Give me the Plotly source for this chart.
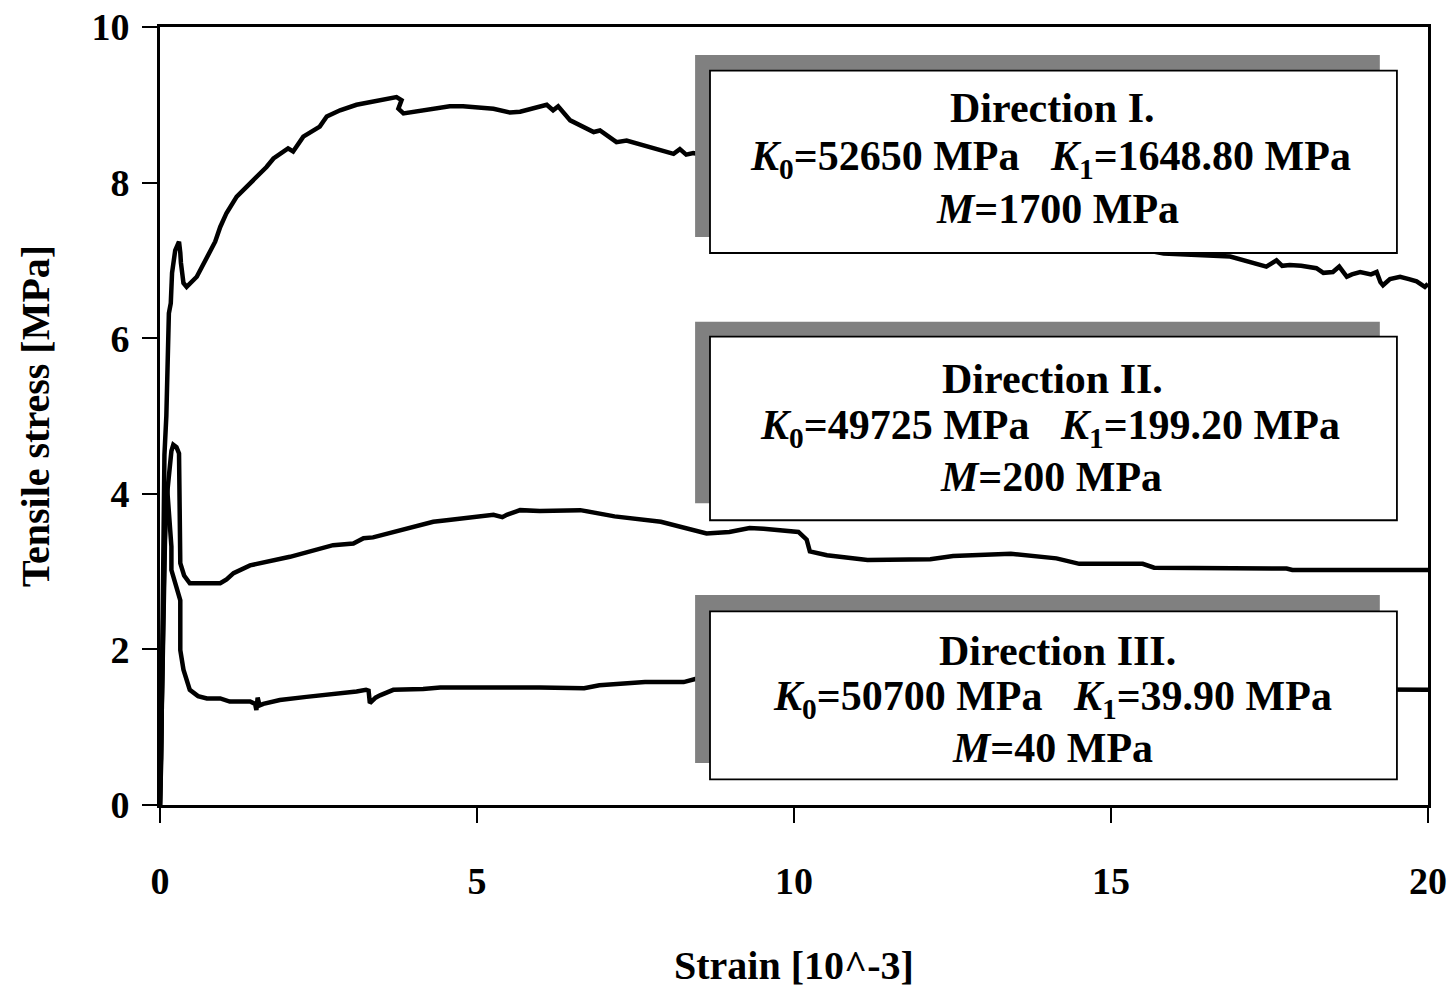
import plotly.graph_objects as go

# ---------------- data ----------------
dir1_strain = [0.00, 0.02, 0.03, 0.05, 0.07, 0.10, 0.12, 0.14, 0.17, 0.19, 0.24, 0.30, 0.32, 0.33,
               0.37, 0.42, 0.58, 0.74, 0.87, 0.95, 1.05, 1.21, 1.37, 1.68, 1.79, 2.02, 2.10, 2.26,
               2.52, 2.63, 2.84, 3.10, 3.73, 3.81, 3.76, 3.84, 4.57, 4.78, 5.26, 5.52, 5.68, 5.99,
               6.10, 6.20, 6.28, 6.47, 6.84, 6.94, 7.20, 7.36, 7.99, 8.10, 8.20, 8.30, 8.41,
               9.50, 11.00, 12.50, 14.00, 15.00,
               15.83, 16.61, 16.88, 17.45, 17.55, 17.61, 17.70, 17.82, 18.00, 18.24, 18.35, 18.50,
               18.60, 18.72, 18.80, 18.93, 19.10, 19.19, 19.25, 19.29, 19.40, 19.56, 19.70, 19.82,
               19.95, 20.00]
dir1_stress = [0.00, 0.60, 1.50, 3.00, 4.50, 5.00, 6.00, 6.32, 6.45, 6.84, 7.13, 7.24, 7.10, 6.97,
               6.71, 6.66, 6.79, 7.05, 7.24, 7.43, 7.61, 7.82, 7.95, 8.20, 8.31, 8.44, 8.40, 8.59,
               8.72, 8.85, 8.93, 9.00, 9.10, 9.06, 8.95, 8.89, 8.98, 8.98, 8.95, 8.90, 8.91, 8.97,
               9.00, 8.93, 8.98, 8.80, 8.65, 8.67, 8.52, 8.54, 8.39, 8.37, 8.43, 8.36, 8.38,
               8.20, 7.95, 7.70, 7.40, 7.22,
               7.09, 7.07, 7.05, 6.92, 6.98, 7.00, 6.93, 6.94, 6.93, 6.90, 6.84, 6.85,
               6.92, 6.79, 6.82, 6.85, 6.82, 6.85, 6.72, 6.68, 6.76, 6.79, 6.76, 6.73,
               6.66, 6.70]

dir2_strain = [0.00, 0.02, 0.04, 0.07, 0.10, 0.14, 0.18, 0.21, 0.26, 0.30, 0.31, 0.32, 0.32, 0.38,
               0.47, 0.95, 1.05, 1.16, 1.42, 2.05, 2.73, 3.05, 3.21, 3.36, 3.89, 4.31, 4.52, 5.26,
               5.40, 5.47, 5.68, 5.99, 6.63, 6.90, 7.17, 7.90, 8.62, 8.98, 9.30, 9.52, 10.07, 10.20,
               10.25, 10.52, 11.16, 12.15, 12.51, 13.42, 14.14, 14.50, 15.50, 15.68, 17.77, 17.86,
               20.00]
dir2_stress = [0.00, 1.20, 2.50, 3.30, 3.90, 4.30, 4.55, 4.63, 4.60, 4.52, 4.00, 3.66, 3.11, 2.95,
               2.85, 2.85, 2.90, 2.98, 3.08, 3.19, 3.34, 3.36, 3.43, 3.44, 3.55, 3.64, 3.66, 3.73,
               3.70, 3.73, 3.79, 3.78, 3.79, 3.75, 3.71, 3.64, 3.49, 3.51, 3.56, 3.55, 3.51, 3.41,
               3.26, 3.21, 3.15, 3.16, 3.20, 3.23, 3.17, 3.10, 3.10, 3.05, 3.04, 3.02,
               3.02]

dir3_strain = [0.00, 0.02, 0.04, 0.06, 0.09, 0.11, 0.14, 0.18, 0.18, 0.25, 0.32, 0.32, 0.37, 0.47,
               0.60, 0.74, 0.95, 1.10, 1.42, 1.50, 1.52, 1.54, 1.57, 1.63, 1.89, 2.31, 2.84, 3.10,
               3.25, 3.29, 3.31, 3.40, 3.47, 3.68, 4.15, 4.42, 5.99, 6.69, 6.93, 7.65, 8.26, 8.44,
               10.00, 13.00, 16.00, 19.00, 20.00]
dir3_stress = [0.00, 1.00, 2.20, 3.20, 3.90, 4.10, 3.70, 3.32, 3.02, 2.80, 2.63, 1.99, 1.74, 1.48,
               1.40, 1.37, 1.37, 1.33, 1.33, 1.30, 1.22, 1.38, 1.28, 1.30, 1.35, 1.39, 1.43, 1.46,
               1.48, 1.47, 1.31, 1.38, 1.41, 1.48, 1.49, 1.51, 1.51, 1.50, 1.54, 1.58, 1.58, 1.62,
               1.62, 1.55, 1.50, 1.48, 1.48]

x_ticks = [0, 5, 10, 15, 20]
y_ticks = [0, 2, 4, 6, 8, 10]

box_titles = ["Direction I.", "Direction II.", "Direction III."]
k0_values = ["52650", "49725", "50700"]
k1_values = ["1648.80", "199.20", "39.90"]
m_values = ["1700", "200", "40"]

# ---------------- figure ----------------
SERIF = "Liberation Serif"
fig = go.Figure()
for xs, ys in [(dir1_strain, dir1_stress), (dir2_strain, dir2_stress), (dir3_strain, dir3_stress)]:
    fig.add_trace(go.Scatter(x=xs, y=ys, mode="lines",
                             line=dict(color="black", width=4.5), showlegend=False,
                             hoverinfo="skip"))

# info boxes (shadow + white box), in data coordinates
box_x = (8.675, 19.51)
shadow_x = (8.44, 19.24)
box_y = [(7.095, 9.44), (3.66, 6.02), (0.33, 2.49)]
shadow_y = [(7.30, 9.64), (3.88, 6.21), (0.54, 2.70)]
line_y = [(8.96, 8.30, 7.66), (5.48, 4.85, 4.22), (1.98, 1.36, 0.73)]
line_x = [(14.07, 14.05, 14.15), (14.07, 14.04, 14.05), (14.16, 14.07, 14.07)]

shapes = []
annotations = []
nb = "\u00a0"
for i in range(3):
    shapes.append(dict(type="rect", xref="x", yref="y", layer="above",
                       x0=shadow_x[0], x1=shadow_x[1], y0=shadow_y[i][0], y1=shadow_y[i][1],
                       fillcolor="#808080", line=dict(width=0)))
    shapes.append(dict(type="rect", xref="x", yref="y", layer="above",
                       x0=box_x[0], x1=box_x[1], y0=box_y[i][0], y1=box_y[i][1],
                       fillcolor="white", line=dict(color="black", width=1.8)))
    texts = [
        box_titles[i],
        f"<i>K</i><sub>0</sub>={k0_values[i]} MPa{nb*3}<i>K</i><sub>1</sub>={k1_values[i]} MPa",
        f"<i>M</i>={m_values[i]} MPa",
    ]
    for j, t in enumerate(texts):
        annotations.append(dict(text=t, xref="x", yref="y", x=line_x[i][j], y=line_y[i][j],
                                showarrow=False, xanchor="center", yanchor="middle",
                                font=dict(family=SERIF, size=42, color="black", weight="bold")))

# axis titles
annotations.append(dict(text="Strain [10^-3]", xref="paper", yref="paper", x=0.5, y=0,
                        yshift=-160, showarrow=False, xanchor="center", yanchor="middle",
                        font=dict(family=SERIF, size=40, color="black", weight="bold")))
annotations.append(dict(text="Tensile stress [MPa]", xref="paper", yref="paper", x=0, y=0.5,
                        xshift=-125, showarrow=False, xanchor="center", yanchor="middle",
                        textangle=-90,
                        font=dict(family=SERIF, size=40, color="black", weight="bold")))

fig.update_layout(
    width=1453, height=987,
    margin=dict(l=160, r=25, t=27, b=182, autoexpand=False),
    paper_bgcolor="white", plot_bgcolor="white",
    shapes=shapes, annotations=annotations,
    showlegend=False,
)
fig.update_xaxes(range=[0, 20], tickvals=x_ticks, ticktext=[str(v) for v in x_ticks],
                 showgrid=False, zeroline=False, showline=True, linecolor="black", linewidth=3,
                 mirror=True, ticks="outside", ticklen=15, tickwidth=2, tickcolor="black",
                 ticklabelstandoff=25, ticklabeloverflow="allow",
                 tickfont=dict(family=SERIF, size=38, color="black", weight="bold"))
fig.update_yaxes(range=[0, 10], tickvals=y_ticks, ticktext=[str(v) for v in y_ticks],
                 showgrid=False, zeroline=False, showline=True, linecolor="black", linewidth=3,
                 mirror=True, ticks="outside", ticklen=15, tickwidth=2, tickcolor="black",
                 ticklabelstandoff=5, ticklabeloverflow="allow",
                 tickfont=dict(family=SERIF, size=38, color="black", weight="bold"))

# remove the default page margin so the figure sits at the window's top-left corner
fig.write_html("out.html",
               config={"displayModeBar": False, "staticPlot": True},
               post_script="document.body.style.margin='0';document.body.style.overflow='hidden';")
